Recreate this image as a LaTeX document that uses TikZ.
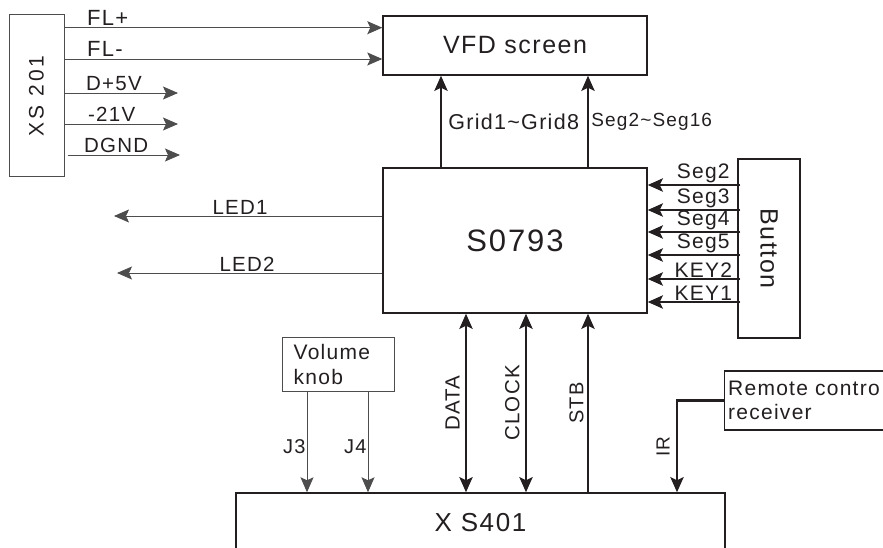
\documentclass[tikz,border=0pt]{standalone}
\usepackage{fontspec}
\setmainfont{Liberation Sans}[LetterSpace=6]
\usetikzlibrary{arrows.meta,positioning,calc}
\definecolor{vfInk}{HTML}{231F20}
\definecolor{vfThin}{HTML}{4D4D4D}

\begin{document}
\begin{tikzpicture}[x=1pt,y=-1pt,
  box/.style={draw=vfInk,line width=1.4pt,minimum width=264pt,align=center,inner sep=0pt},
  lbl/.style={font=\fontsize{19}{21}\selectfont,text=vfInk,inner sep=1pt},
  big/.style={font=\fontsize{25}{28}\selectfont,text=vfInk},
  thinarr/.style={-{Stealth[length=15pt,width=13pt,inset=3pt]},vfThin,line width=0.9pt},
  fatarr/.style={-{Stealth[length=15pt,width=13pt,inset=3pt]},vfInk,line width=2.8pt},
  fatboth/.style={{Stealth[length=15pt,width=13pt,inset=3pt]}-{Stealth[length=15pt,width=13pt,inset=3pt]},vfInk,line width=2.8pt}]
\useasboundingbox (0,0) rectangle (883,548);

% blocks
\node[draw=vfThin,line width=1pt,minimum width=55pt,minimum height=162pt,inner sep=0pt] (xs) at (36.5,96) {};
\node[lbl,rotate=90,font=\fontsize{21}{23}\selectfont\addfontfeature{LetterSpace=14}] at (xs.center) {XS 201};
\node[box,big,minimum height=59pt] (vfd) at (515,45.5) {VFD screen};
\node[box,minimum height=145pt,font=\fontsize{31}{34}\selectfont,text=vfInk] (chip) at (515,240.5) {S0793};
\node[draw=vfInk,line width=1.4pt,minimum width=62pt,minimum height=179pt,inner sep=0pt] (btn) at (769,248.5) {};
\node[big,rotate=-90] at (btn.center) {Button};
\node[draw=vfThin,line width=1pt,minimum width=112pt,minimum height=54pt,inner sep=0pt] (knob) at (338,364) {};
\node[lbl,font=\fontsize{21}{25}\selectfont,align=left,anchor=west,inner sep=0pt] at ($(knob.west)+(12,0)$) {Volume\\knob};
\node[box,big,font=\fontsize{26}{29}\selectfont,minimum width=489pt,minimum height=60pt] (xsf) at (480.5,523) {X S401};
\node[draw=vfInk,line width=1.4pt,minimum width=190pt,minimum height=59pt,inner sep=0pt,anchor=west] (rc) at (724,400.5) {};
\node[lbl,font=\fontsize{21}{24}\selectfont,align=left,anchor=west,inner sep=4pt] at (rc.west) {Remote contro\\receiver};

% XS 201 outputs
\coordinate (p5) at (178,93);
\coordinate (m21) at (178,124);
\coordinate (gnd) at (180,155);
\draw[thinarr] (xs.east |- 0,27.7) -- (vfd.west |- 0,27.7);
\draw[thinarr] (xs.east |- 0,59) -- (vfd.west |- 0,59);
\draw[thinarr] (xs.east |- p5) -- (p5);
\draw[thinarr] (xs.east |- m21) -- (m21);
\draw[thinarr] ($(xs.east |- gnd)+(3,0)$) -- (gnd);
\node[lbl,font=\fontsize{22}{24}\selectfont,anchor=south west] (flp) at (86,27) {FL+};
\node[lbl,font=\fontsize{22}{24}\selectfont,anchor=south west] (flm) at (86,58) {FL-};
\node[lbl,font=\fontsize{20.5}{22}\selectfont,anchor=south west] (dv) at (85,92) {D+5V};
\node[lbl,font=\fontsize{20.5}{22}\selectfont,anchor=south west] (mv) at (87,123) {-21V};
\node[lbl,font=\fontsize{20.5}{22}\selectfont,anchor=south west] (dg) at (83,154) {DGND};

% chip to screen
\draw[fatarr] (chip.north -| 441,0) -- node[lbl,right,inner sep=6pt,font=\fontsize{21.5}{23}\selectfont] {Grid1\textasciitilde Grid8} (vfd.south -| 441,0);
\draw[fatarr] (chip.north -| 588,0) -- node[lbl,right,inner sep=2pt] {Seg2\textasciitilde Seg16} (vfd.south -| 588,0);

% LEDs
\coordinate (led1) at (114,216);
\coordinate (led2) at (117,273);
\draw[thinarr] (chip.west |- led1) -- node[lbl,above,font=\fontsize{20.5}{22}\selectfont,pos=0.53] {LED1} (led1);
\draw[thinarr] (chip.west |- led2) -- node[lbl,above,font=\fontsize{20.5}{22}\selectfont,pos=0.51] {LED2} (led2);

% keys
\foreach \yy/\kname in {185/Seg2,210/Seg3,232/Seg4,255/Seg5,279/KEY2,302/KEY1}
  \draw[fatarr] ($(btn.west |- 0,\yy)+(3,0)$) -- node[lbl,above,inner sep=0.5pt,pos=0.4,font=\fontsize{21}{22}\selectfont] {\kname} (chip.east |- 0,\yy);

% bus
\draw[fatboth] (chip.south -| 466,0) -- node[lbl,rotate=90,anchor=south,font=\fontsize{20.5}{22}\selectfont,inner sep=5pt] {DATA} (xsf.north -| 466,0);
\draw[fatboth] (chip.south -| 526,0) -- node[lbl,rotate=90,anchor=south,font=\fontsize{20.5}{22}\selectfont,inner sep=5pt] {CLOCK} (xsf.north -| 526,0);
\draw[fatarr] (xsf.north -| 588,0) -- node[lbl,rotate=90,anchor=south,font=\fontsize{20}{22}\selectfont,inner sep=3pt] {STB} (chip.south -| 588,0);

% knob and IR
\draw[thinarr] (knob.south -| 307,0) -- node[lbl,left,pos=0.55,font=\fontsize{20}{22}\selectfont] {J3} (xsf.north -| 307,0);
\draw[thinarr] (knob.south -| 368,0) -- node[lbl,left,pos=0.55,font=\fontsize{20}{22}\selectfont] {J4} (xsf.north -| 368,0);
\draw[fatarr] (rc.west) -| node[lbl,rotate=90,anchor=south,pos=0.75,inner sep=6pt] {IR} (xsf.north -| 677,0);
\end{tikzpicture}
\end{document}
